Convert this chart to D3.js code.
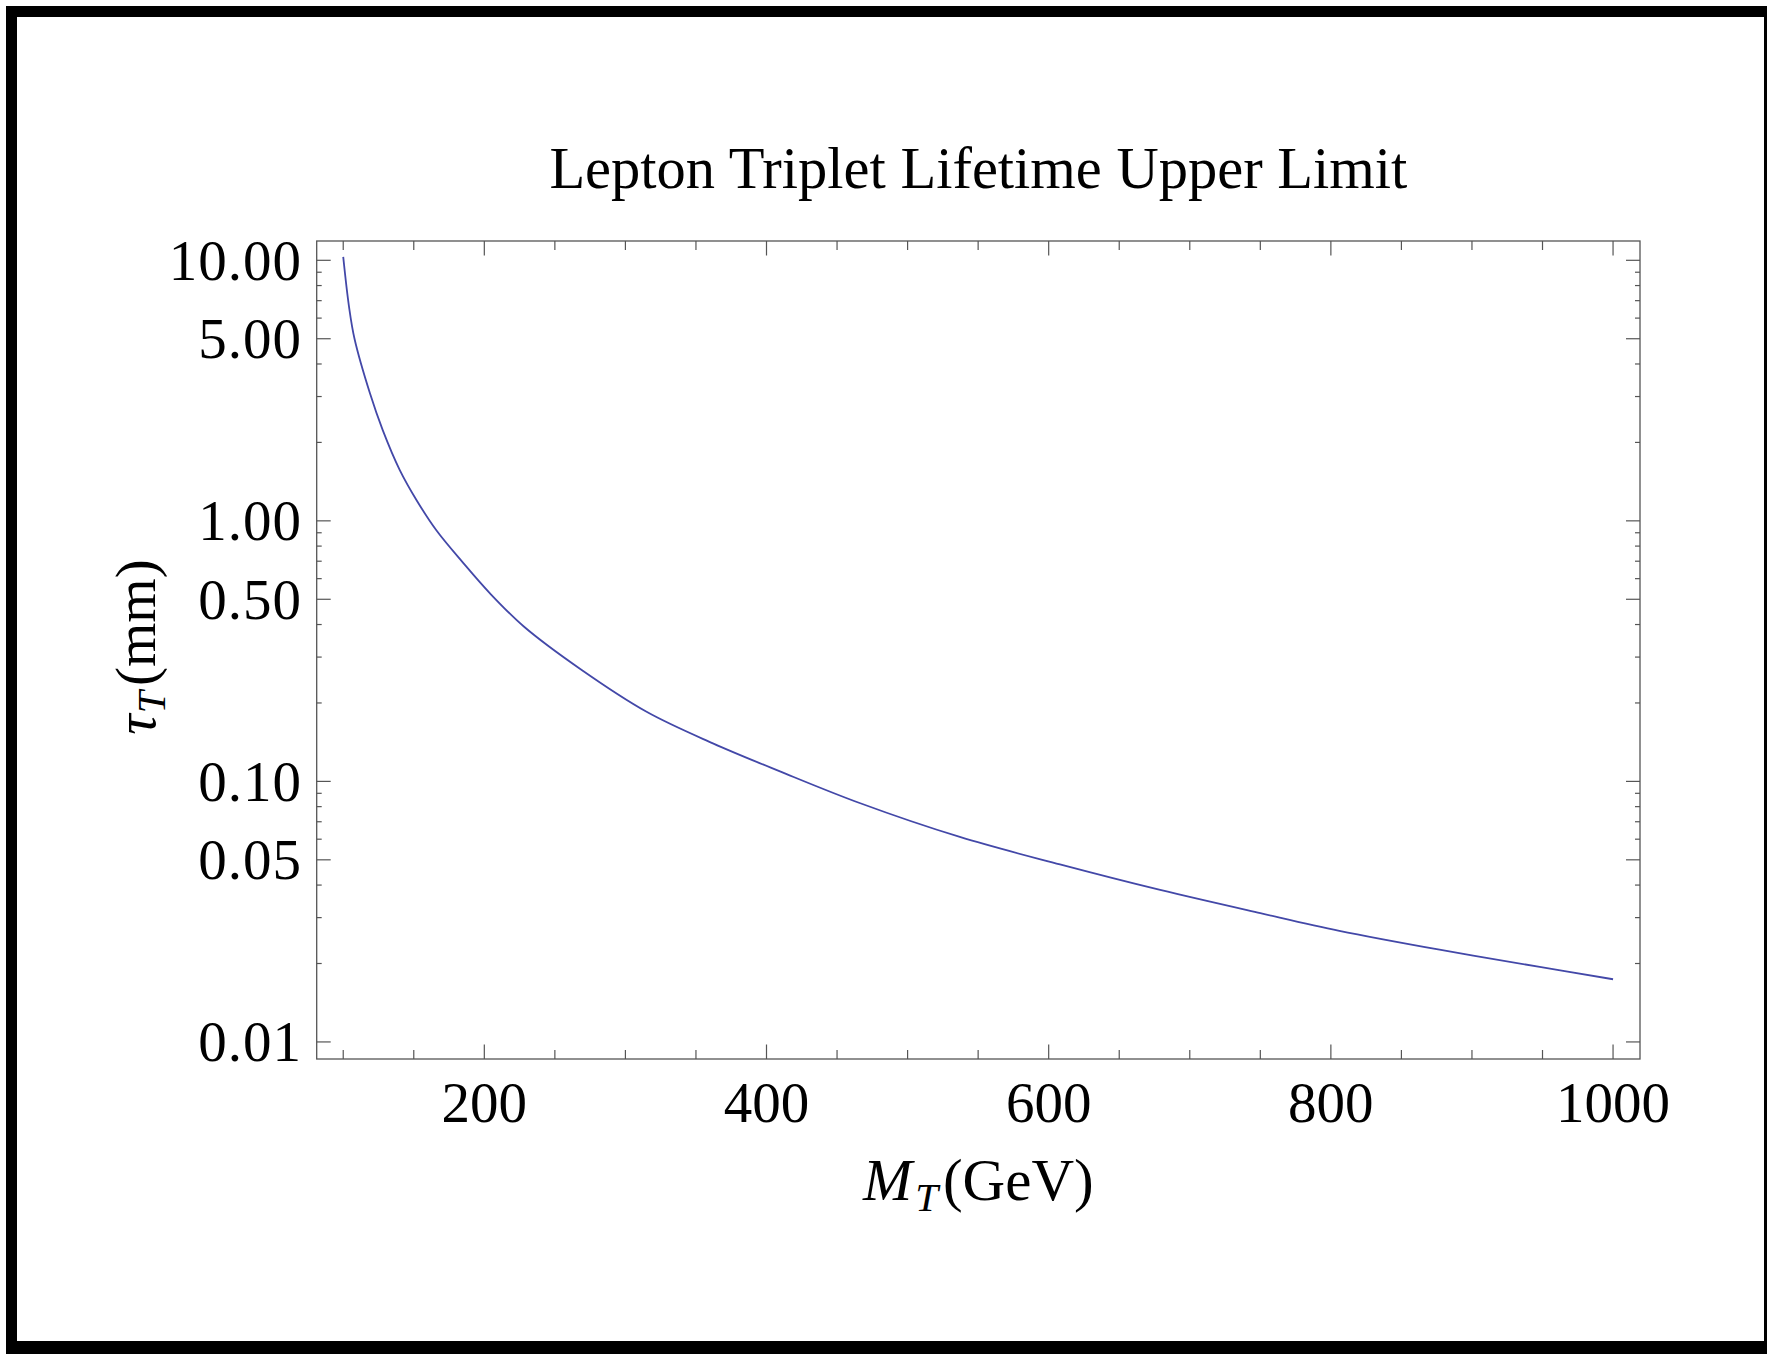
<!DOCTYPE html>
<html>
<head>
<meta charset="utf-8">
<script src="https://cdn.jsdelivr.net/npm/d3@7"></script>
<style>
  body { margin: 0; background: #fff; }
  text { font-family: "Liberation Serif", "Times New Roman", serif; fill: #000; }
</style>
</head>
<body>
<div id="chart"></div>
<script>
const width = 1767;
const height = 1354;

// plot frame (pixels)
const plotLeft = 316.7, plotRight = 1640, plotTop = 241, plotBottom = 1059;

/* ----------------------- data ----------------------- */
const massGeV = [100, 104, 108, 119, 128, 140, 152, 166, 185, 204, 228, 268, 315,
                 362, 410, 466, 537, 608, 679, 750, 806, 877, 948, 1000];
const tauMm = [10.3, 6.7, 5.0, 3.08, 2.23, 1.57, 1.20, 0.92, 0.69, 0.527, 0.393, 0.270, 0.185,
               0.140, 0.109, 0.0826, 0.0612, 0.0480, 0.0383, 0.0312, 0.0267, 0.0226, 0.0194, 0.0174];

const xMajorTicks = [200, 400, 600, 800, 1000];
const xMinorTicks = [100, 150, 250, 300, 350, 450, 500, 550, 650, 700, 750, 850, 900, 950];
const yMajorTicks = [10, 5, 1, 0.5, 0.1, 0.05, 0.01];
const yMinorTicks = [9, 8, 7, 6, 4, 3, 2, 0.9, 0.8, 0.7, 0.6, 0.4, 0.3, 0.2,
                     0.09, 0.08, 0.07, 0.06, 0.04, 0.03, 0.02];

const titleText = "Lepton Triplet Lifetime Upper Limit";

const svg = d3.select("#chart")
  .append("svg")
    .attr("width", width)
    .attr("height", height)

// black outer border
svg.append("rect")
  .attr("x", 6).attr("y", 6)
  .attr("width", width - 6).attr("height", height - 6)
  .attr("fill", "#000")
svg.append("rect")
  .attr("x", 17).attr("y", 17)
  .attr("width", 1764 - 17).attr("height", 1341 - 17)
  .attr("fill", "#fff")

/* ----------------------- scales ----------------------- */
const x = d3.scaleLinear()
  .domain([81.2, 1019.1])
  .range([plotLeft, plotRight]);

const y = d3.scaleLog()
  .domain([0.0086, 11.86])
  .range([plotBottom, plotTop]);

const frameColor = "#555";
const fmt = d3.format(".2f");

// ticks pointing into the plot from one side of the frame
function drawTicks(g, vals, pos, len, side) {
  g.selectAll(null)
    .data(vals)
    .enter()
    .append("line")
      .attr("x1", d => side === "left" ? plotLeft : side === "right" ? plotRight : pos(d))
      .attr("x2", d => side === "left" ? plotLeft + len : side === "right" ? plotRight - len : pos(d))
      .attr("y1", d => side === "bottom" ? plotBottom : side === "top" ? plotTop : pos(d))
      .attr("y2", d => side === "bottom" ? plotBottom - len : side === "top" ? plotTop + len : pos(d))
      .attr("stroke", frameColor)
      .attr("stroke-width", 1.2)
}

const axes = svg.append("g");
drawTicks(axes, xMajorTicks, x, 14.5, "bottom");
drawTicks(axes, xMinorTicks, x, 9, "bottom");
drawTicks(axes, xMajorTicks, x, 14.5, "top");
drawTicks(axes, xMinorTicks, x, 9, "top");
drawTicks(axes, yMajorTicks, y, 14, "left");
drawTicks(axes, yMinorTicks, y, 5, "left");
drawTicks(axes, yMajorTicks, y, 14, "right");
drawTicks(axes, yMinorTicks, y, 5, "right");

// frame
svg.append("rect")
  .attr("x", plotLeft).attr("y", plotTop)
  .attr("width", plotRight - plotLeft).attr("height", plotBottom - plotTop)
  .attr("fill", "none")
  .attr("stroke", frameColor)
  .attr("stroke-width", 1.3)

// tick labels
svg.append("g")
  .selectAll("text")
  .data(xMajorTicks)
  .join("text")
    .attr("x", d => x(d))
    .attr("y", 1121.6)
    .attr("text-anchor", "middle")
    .attr("font-size", 57)
    .text(d => d)

svg.append("g")
  .selectAll("text")
  .data(yMajorTicks)
  .join("text")
    .attr("x", 302)
    .attr("y", d => y(d) + 19.5)
    .attr("text-anchor", "end")
    .attr("font-size", 57)
    .attr("letter-spacing", 1)
    .text(d => fmt(d))

/* ----------------------- curve ----------------------- */
const line = d3.line()
  .x((d, i) => x(massGeV[i]))
  .y(d => y(d))
  .curve(d3.curveCatmullRom.alpha(0.5));

svg.append("path")
  .datum(tauMm)
  .attr("d", line)
  .attr("fill", "none")
  .attr("stroke", "#4348a8")
  .attr("stroke-width", 1.8)

/* ----------------------- labels ----------------------- */
svg.append("text")
  .attr("x", (plotLeft + plotRight) / 2)
  .attr("y", 188)
  .attr("text-anchor", "middle")
  .attr("font-size", 58.5)
  .text(titleText)

// x label: M_T(GeV)
const xl = svg.append("text")
  .attr("x", (plotLeft + plotRight) / 2)
  .attr("y", 1200)
  .attr("text-anchor", "middle")
  .attr("font-size", 59)
xl.append("tspan").attr("font-style", "italic").text("M")
xl.append("tspan").attr("font-style", "italic").attr("font-size", 41).attr("dx", 3).attr("dy", 11).text("T")
xl.append("tspan").attr("dx", 5).attr("dy", -11).text("(GeV)")

// y label: tau_T(mm)
const yl = svg.append("text")
  .attr("transform", "translate(155," + 647 + ") rotate(-90)")
  .attr("text-anchor", "middle")
  .attr("font-size", 57)
yl.append("tspan").attr("font-style", "italic").text("τ")
yl.append("tspan").attr("font-style", "italic").attr("font-size", 40).attr("dx", 1).attr("dy", 10).text("T")
yl.append("tspan").attr("dx", 5).attr("dy", -10).text("(mm)")
</script>
</body>
</html>
